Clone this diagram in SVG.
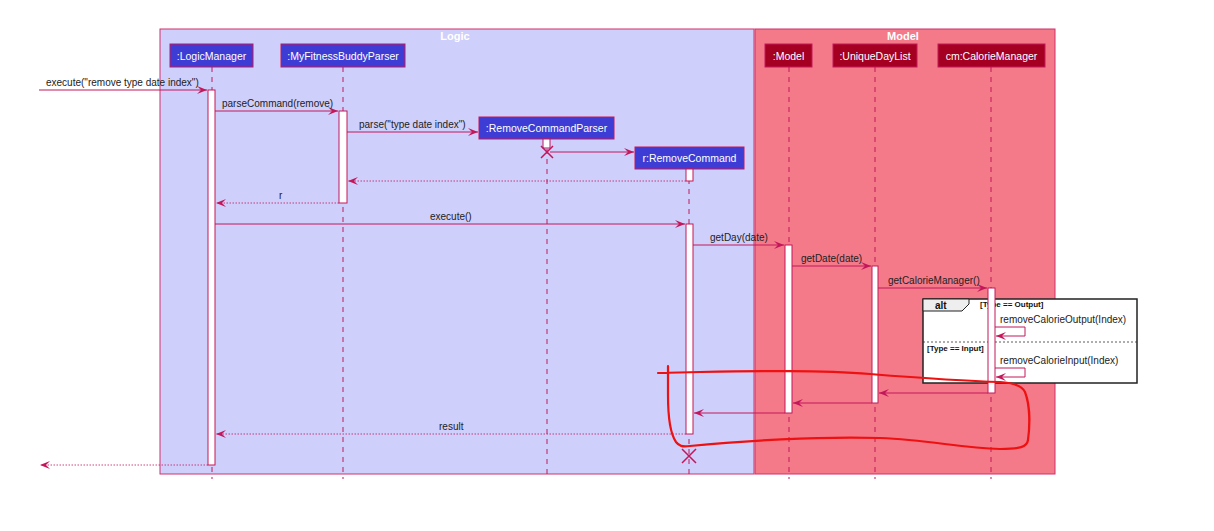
<svg xmlns="http://www.w3.org/2000/svg" width="1214" height="531" viewBox="0 0 1214 531">
<defs>
<style>
.txt{font-family:"Liberation Sans",Arial,sans-serif;font-size:10px;fill:#222}
.ptxt{font-family:"Liberation Sans",Arial,sans-serif;font-size:10.5px;fill:#fff}
.title{font-family:"Liberation Sans",Arial,sans-serif;font-size:11px;font-weight:bold;fill:#fff}
.guard{font-family:"Liberation Sans",Arial,sans-serif;font-size:8px;font-weight:bold;fill:#111}
.pblue{fill:#3D3DD6;stroke:#C2185B;stroke-width:1}
.pred{fill:#A50021;stroke:#C2185B;stroke-width:1}
.life{stroke:#C2185B;stroke-width:1;stroke-dasharray:5,5;fill:none}
.act{fill:#fff;stroke:#C2185B;stroke-width:1}
.msg{stroke:#C2185B;stroke-width:1;fill:none;marker-end:url(#ah)}
.ret{stroke:#C2185B;stroke-width:0.8;stroke-dasharray:1.5,1.5;fill:none;marker-end:url(#ah)}
.xmark{stroke:#C2185B;stroke-width:1.5;fill:none}
</style>
<marker id="ah" markerUnits="userSpaceOnUse" markerWidth="12" markerHeight="10" refX="10" refY="4" orient="auto">
<polygon points="0,0 10,4 0,8 4,4" fill="#C2185B"/>
</marker>
</defs>
<rect x="0" y="0" width="1214" height="531" fill="#fff"/>

<g id="box-logic">
<rect x="160" y="29" width="594" height="445" fill="#CFCFFC" stroke="#D0306A" stroke-width="1"/>
<text class="title" x="455" y="40" text-anchor="middle">Logic</text>
</g>
<g id="box-model">
<rect x="755" y="29" width="300" height="445" fill="#F47A8A" stroke="#D0306A" stroke-width="1"/>
<text class="title" x="903" y="40" text-anchor="middle">Model</text>
</g>

<g id="lifelines">
<line class="life" x1="212" y1="67" x2="212" y2="479"/>
<line class="life" x1="343" y1="67" x2="343" y2="479"/>
<line class="life" x1="547" y1="139" x2="547" y2="479"/>
<line class="life" x1="689" y1="169" x2="689" y2="479"/>
<line class="life" x1="789" y1="67" x2="789" y2="479"/>
<line class="life" x1="875" y1="67" x2="875" y2="479"/>
<line class="life" x1="991" y1="67" x2="991" y2="479"/>
</g>

<g id="p-logicmanager">
<rect class="pblue" x="170" y="44" width="83" height="23"/>
<text class="ptxt" x="211.5" y="59.5" text-anchor="middle">:LogicManager</text>
</g>
<g id="p-parser">
<rect class="pblue" x="281" y="44" width="124" height="23"/>
<text class="ptxt" x="343" y="59.5" text-anchor="middle">:MyFitnessBuddyParser</text>
</g>
<g id="p-removecommandparser">
<rect class="pblue" x="479" y="117" width="135" height="22"/>
<text class="ptxt" x="546.5" y="132" text-anchor="middle">:RemoveCommandParser</text>
</g>
<g id="p-removecommand">
<rect class="pblue" x="635" y="147" width="109" height="22"/>
<text class="ptxt" x="689.5" y="162" text-anchor="middle">r:RemoveCommand</text>
</g>
<g id="p-model">
<rect class="pred" x="765" y="44" width="47" height="23"/>
<text class="ptxt" x="788.5" y="59.5" text-anchor="middle">:Model</text>
</g>
<g id="p-uniquedaylist">
<rect class="pred" x="833" y="44" width="84" height="23"/>
<text class="ptxt" x="875" y="59.5" text-anchor="middle">:UniqueDayList</text>
</g>
<g id="p-caloriemanager">
<rect class="pred" x="938" y="44" width="107" height="23"/>
<text class="ptxt" x="991.5" y="59.5" text-anchor="middle">cm:CalorieManager</text>
</g>

<g id="alt-frame">
<rect x="923" y="299" width="214" height="84" fill="#fff" stroke="#222" stroke-width="1.5"/>
<polygon points="923,299 969,299 969,304 962,311 923,311" fill="#EEEEEE" stroke="#222" stroke-width="1"/>
<text class="guard" x="935" y="309" style="font-size:10px">alt</text>
<text class="guard" x="980" y="307">[Type == Output]</text>
<line x1="923" y1="342" x2="1137" y2="342" stroke="#333" stroke-width="0.8" stroke-dasharray="2,2"/>
<text class="guard" x="927" y="351">[Type == Input]</text>
</g>

<g id="activations">
<rect class="act" x="208" y="90" width="7" height="375"/>
<rect class="act" x="339" y="111" width="8" height="92"/>
<rect class="act" x="543" y="139" width="7" height="9"/>
<rect class="act" x="686" y="169" width="7" height="12"/>
<rect class="act" x="686" y="224" width="7" height="210"/>
<rect class="act" x="785" y="245" width="7" height="168"/>
<rect class="act" x="872" y="266" width="6" height="137"/>
<rect class="act" x="988" y="288" width="7" height="105"/>
</g>

<g id="connectors">
<line class="msg" x1="39" y1="90" x2="207" y2="90"/>
<text class="txt" x="46" y="86">execute("remove type date index")</text>
<line class="msg" x1="215" y1="111" x2="338" y2="111"/>
<text class="txt" x="222" y="107">parseCommand(remove)</text>
<line class="msg" x1="347" y1="132" x2="478" y2="132"/>
<text class="txt" x="359" y="128">parse("type date index")</text>
<line class="msg" x1="550" y1="152" x2="634" y2="152"/>
<line class="ret" x1="686" y1="181" x2="348" y2="181"/>
<line class="ret" x1="339" y1="203" x2="216" y2="203"/>
<text class="txt" x="279" y="199">r</text>
<line class="msg" x1="215" y1="224" x2="685" y2="224"/>
<text class="txt" x="430" y="220">execute()</text>
<line class="msg" x1="693" y1="245" x2="784" y2="245"/>
<text class="txt" x="710" y="241">getDay(date)</text>
<line class="msg" x1="792" y1="266" x2="871" y2="266"/>
<text class="txt" x="801" y="262">getDate(date)</text>
<line class="msg" x1="878" y1="288" x2="987" y2="288"/>
<text class="txt" x="888" y="284">getCalorieManager()</text>
<polyline class="msg" points="995,327 1025,327 1025,336 996,336"/>
<text class="txt" x="1000" y="323">removeCalorieOutput(Index)</text>
<polyline class="msg" points="995,368 1025,368 1025,377 996,377"/>
<text class="txt" x="1000" y="364">removeCalorieInput(Index)</text>
<line class="msg" x1="988" y1="393" x2="879" y2="393"/>
<line class="msg" x1="872" y1="403" x2="793" y2="403"/>
<line class="msg" x1="785" y1="413" x2="694" y2="413"/>
<line class="ret" x1="686" y1="434" x2="216" y2="434"/>
<text class="txt" x="439" y="430">result</text>
<line class="ret" x1="208" y1="465" x2="40" y2="465"/>
<path class="xmark" d="M541,146 L553,158 M553,146 L541,158"/>
<path class="xmark" d="M682,449 L696,463 M696,449 L682,463"/>
</g>

<g id="annotation">
<path d="M658,373 L700,372 C760,371 820,370 870,374 C920,378 960,381 1000,382 C1015,383 1022,386 1025,392 C1030,405 1030,425 1028,440 C1027,447 1020,449 1000,449 C960,448 930,440 880,438 C820,436 740,441 690,446 C682,447 679,446 676,442 C669,432 668,410 668,395 C668,380 668,372 668,366" fill="none" stroke="#EE1111" stroke-width="2.2" stroke-linecap="round" stroke-linejoin="round"/>
</g>
</svg>
